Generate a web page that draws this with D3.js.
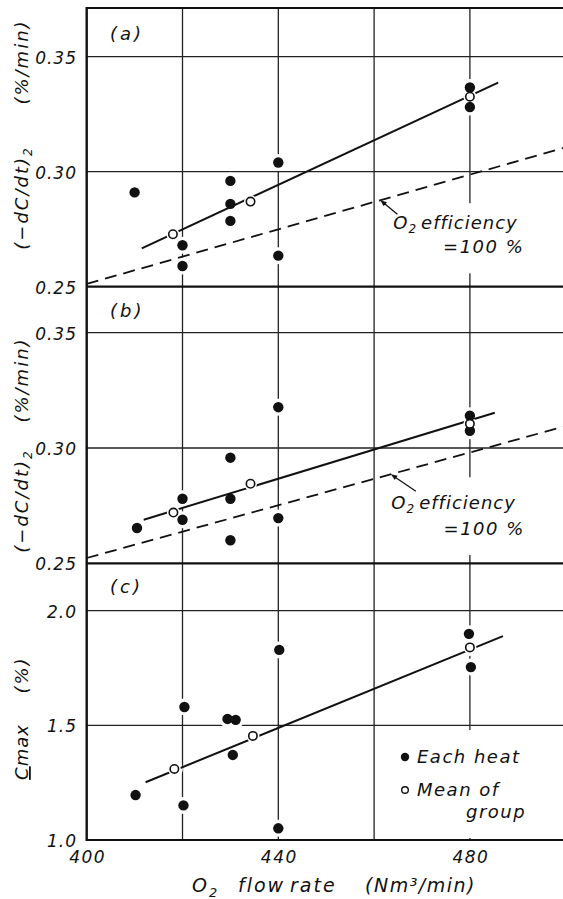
<!DOCTYPE html>
<html>
<head>
<meta charset="utf-8">
<script src="https://cdn.jsdelivr.net/npm/d3@7"></script>
<style>
body{margin:0;background:#fff;}
text{font-family:"DejaVu Sans",sans-serif;font-style:italic;fill:#111;}
</style>
</head>
<body>
<script>
//-----------------------------------------------------------------------DATA

var xTicks = [400, 440, 480];
var xGrid = [420, 440, 460, 480];
var panelLabels = ["(a)", "(b)", "(c)"];

// (a)  (-dC/dt)2 , %/min
var heatA = [[410,0.291],[420,0.268],[420,0.259],[430,0.296],[430,0.286],[430,0.2786],[440,0.304],[440,0.2635],[480,0.3366],[480,0.3281]];
var meanA = [[418,0.2728],[434.2,0.287],[480,0.3326]];
var fitA = [[411.5,0.2667],[485.9,0.3387]];
var effA = [[400,0.2512],[500,0.3106]];
var yTicksA = [0.25, 0.30, 0.35];

// (b)  (-dC/dt)2 , %/min
var heatB = [[410.5,0.2653],[420,0.278],[420,0.2689],[430,0.2958],[430,0.278],[430,0.260],[440,0.3177],[440,0.2696],[480,0.314],[480,0.3075]];
var meanB = [[418.1,0.272],[434.2,0.2845],[480,0.3105]];
var fitB = [[411.9,0.2689],[485.2,0.3153]];
var effB = [[400,0.2523],[500,0.3095]];
var yTicksB = [0.25, 0.30, 0.35];

// (c)  Cmax , %
var heatC = [[410.2,1.196],[420.4,1.58],[420.2,1.151],[429.4,1.528],[431.1,1.524],[430.5,1.371],[440.2,1.829],[440,1.051],[479.8,1.899],[480.2,1.754]];
var meanC = [[418.3,1.31],[434.7,1.454],[480,1.84]];
var fitC = [[412.3,1.252],[486.9,1.889]];
var yTicksC = [1.0, 1.5, 2.0];

// annotation "O2 efficiency = 100 %" (arrow tip x on the dashed line, text anchors)
var noteTipA = 461.3, noteTextA = [[464.0,0.2753],[474.4,0.2645]];
var noteTipB = 463.5, noteTextB = [[463.6,0.2734],[474.5,0.2623]];

//-----------------------------------------------------------------------LAYOUT

var W = 563, H = 899;
var svg = d3.select("body").append("svg").attr("width", W).attr("height", H);

var x = d3.scaleLinear().domain([400, 500]).range([86.7, 565.7]);
var left = x(400);
var plotTop = 8, plotBottom = 840;

var panels = [
	{top: 8, bottom: 286.7, y: d3.scaleLinear().domain([0.25, 0.35]).range([286.7, 56.7]),
	 heat: heatA, mean: meanA, fit: fitA, eff: effA, ticks: yTicksA, fmt: d3.format(".2f"), lab: 40},
	{top: 286.7, bottom: 563.3, y: d3.scaleLinear().domain([0.25, 0.35]).range([563.3, 332.7]),
	 heat: heatB, mean: meanB, fit: fitB, eff: effB, ticks: yTicksB, fmt: d3.format(".2f"), lab: 317},
	{top: 563.3, bottom: 840, y: d3.scaleLinear().domain([1.0, 2.0]).range([840, 610.7]),
	 heat: heatC, mean: meanC, fit: fitC, eff: null, ticks: yTicksC, fmt: d3.format(".1f"), lab: 593}
];

var gGrid = svg.append("g");
var gKnock = svg.append("g");
var gFrame = svg.append("g");
var gLines = svg.append("g");
var gPts = svg.append("g");
var gText = svg.append("g");

//-----------------------------------------------------------------------GRID

// vertical grid lines through all three panels
gGrid.selectAll(".vg").data(xGrid).enter().append("line")
	.attr("x1", function(d){ return x(d); }).attr("x2", function(d){ return x(d); })
	.attr("y1", plotTop).attr("y2", plotBottom)
	.attr("stroke", "#222").attr("stroke-width", 1.3);

panels.forEach(function(p, i){

	// horizontal grid (inner ticks only, panel edges are frame lines)
	var inner = p.ticks.slice(1);
	gGrid.selectAll(".hg" + i).data(inner).enter().append("line")
		.attr("x1", left).attr("x2", W)
		.attr("y1", function(d){ return p.y(d); }).attr("y2", function(d){ return p.y(d); })
		.attr("stroke", "#222").attr("stroke-width", 1.3);

	// tick labels
	gText.selectAll(".yt" + i).data(p.ticks).enter().append("text")
		.attr("x", 77).attr("y", function(d){ return p.y(d) + 7; })
		.attr("text-anchor", "end")
		.style("font-size", "17px").style("letter-spacing", "1px")
		.text(function(d){ return p.fmt(d); });

	// panel label
	gText.append("text").attr("x", 110).attr("y", p.lab)
		.style("font-size", "18px").style("letter-spacing", "3px")
		.text(panelLabels[i]);

	// white halo round every dot, so grid lines are broken there
	gKnock.selectAll(".halo" + i).data(p.heat.concat(p.mean)).enter().append("circle")
		.attr("cx", function(d){ return x(d[0]); }).attr("cy", function(d){ return p.y(d[1]); })
		.attr("r", 8.5).attr("fill", "#fff");

	// dashed line  O2 efficiency = 100 %
	if(p.eff){
		gLines.append("path")
			.attr("d", d3.line().x(function(d){ return x(d[0]); }).y(function(d){ return p.y(d[1]); })(p.eff))
			.attr("fill", "none").attr("stroke", "#111").attr("stroke-width", 1.8)
			.attr("stroke-dasharray", "12,7");
	}

	// fitted line
	gLines.append("path")
		.attr("d", d3.line().x(function(d){ return x(d[0]); }).y(function(d){ return p.y(d[1]); })(p.fit))
		.attr("fill", "none").attr("stroke", "#111").attr("stroke-width", 2);

	// gap of the fitted line round open circles
	gPts.selectAll(".oh" + i).data(p.mean).enter().append("circle")
		.attr("cx", function(d){ return x(d[0]); }).attr("cy", function(d){ return p.y(d[1]); })
		.attr("r", 6.5).attr("fill", "#fff");

	gPts.selectAll(".heat" + i).data(p.heat).enter().append("circle")
		.attr("cx", function(d){ return x(d[0]); }).attr("cy", function(d){ return p.y(d[1]); })
		.attr("r", 5.2).attr("fill", "#111");

	gPts.selectAll(".mean" + i).data(p.mean).enter().append("circle")
		.attr("cx", function(d){ return x(d[0]); }).attr("cy", function(d){ return p.y(d[1]); })
		.attr("r", 4.2).attr("fill", "#fff").attr("stroke", "#111").attr("stroke-width", 1.6);
});

//-----------------------------------------------------------------------ANNOTATIONS

function effNote(p, tipX, txt, tail){
	var t = p.eff;
	var k = (tipX - t[0][0]) / (t[1][0] - t[0][0]);
	var tx = x(tipX), ty = p.y(t[0][1] + k * (t[1][1] - t[0][1]));

	// knock out grid behind the note
	var bx = x(txt[0][0]) - 6, by = ty + 3;
	gKnock.append("rect").attr("x", bx).attr("y", by)
		.attr("width", 136).attr("height", p.y(txt[1][1]) + 20 - by).attr("fill", "#fff");

	var ang = Math.atan2(tail[1], tail[0]);
	gLines.append("line").attr("x1", tx + 3 * Math.cos(ang)).attr("y1", ty + 3 * Math.sin(ang))
		.attr("x2", tx + tail[0]).attr("y2", ty + tail[1])
		.attr("stroke", "#111").attr("stroke-width", 1.3);
	var ah = 7, aw = 0.38;
	gLines.append("path")
		.attr("d", "M" + tx + "," + ty +
			"L" + (tx + ah * Math.cos(ang - aw)) + "," + (ty + ah * Math.sin(ang - aw)) +
			"L" + (tx + ah * Math.cos(ang + aw)) + "," + (ty + ah * Math.sin(ang + aw)) + "Z")
		.attr("fill", "#111");

	var t1 = gText.append("text").attr("x", x(txt[0][0])).attr("y", p.y(txt[0][1]))
		.style("font-size", "18px").style("letter-spacing", "1px");
	t1.append("tspan").text("O");
	t1.append("tspan").attr("dy", 4).style("font-size", "12px").text("2");
	t1.append("tspan").attr("dy", -4).attr("dx", 4).text("efficiency");

	gText.append("text").attr("x", x(txt[1][0])).attr("y", p.y(txt[1][1]))
		.style("font-size", "18px").style("letter-spacing", "1.5px")
		.text("=100 %");
}
effNote(panels[0], noteTipA, noteTextA, [17, 14]);
effNote(panels[1], noteTipB, noteTextB, [25, 17]);

//-----------------------------------------------------------------------LEGEND (c)

gKnock.append("rect").attr("x", 396).attr("y", 730).attr("width", 135).attr("height", 108).attr("fill", "#fff");
gPts.append("circle").attr("cx", 405).attr("cy", 757).attr("r", 4.2).attr("fill", "#111");
gPts.append("circle").attr("cx", 405).attr("cy", 790).attr("r", 3.3).attr("fill", "#fff")
	.attr("stroke", "#111").attr("stroke-width", 1.4);
gText.append("text").attr("x", 417).attr("y", 763).style("font-size", "18px").style("letter-spacing", "1.5px").text("Each heat");
gText.append("text").attr("x", 417).attr("y", 796).style("font-size", "18px").style("letter-spacing", "1.5px").text("Mean of");
gText.append("text").attr("x", 466).attr("y", 818).style("font-size", "18px").style("letter-spacing", "1.5px").text("group");

//-----------------------------------------------------------------------FRAME

gFrame.append("line").attr("x1", left).attr("x2", left).attr("y1", plotTop - 1).attr("y2", plotBottom + 1)
	.attr("stroke", "#111").attr("stroke-width", 2.4);
[plotTop, panels[1].top, panels[2].top, plotBottom].forEach(function(yy){
	gFrame.append("line").attr("x1", left).attr("x2", W).attr("y1", yy).attr("y2", yy)
		.attr("stroke", "#111").attr("stroke-width", 2.2);
});

//-----------------------------------------------------------------------AXIS TEXT

gText.selectAll(".xt").data(xTicks).enter().append("text")
	.attr("x", function(d){ return x(d) + 1; }).attr("y", 863)
	.attr("text-anchor", "middle")
	.style("font-size", "17px").style("letter-spacing", "1.5px")
	.text(function(d){ return d; });

var xt = gText.append("text").attr("y", 892).style("font-size", "19px").style("letter-spacing", "2px");
xt.append("tspan").attr("x", 192).text("O");
xt.append("tspan").attr("dy", 5).style("font-size", "13px").text("2");
xt.append("tspan").attr("x", 238).attr("dy", -5).text("flow");
xt.append("tspan").attr("x", 290).text("rate");
xt.append("tspan").attr("x", 365).style("letter-spacing", "1.5px").text("(Nm³/min)");

// rotated y titles
function yTitle(cy, build){
	var t = gText.append("text").attr("transform", "translate(28," + cy + ") rotate(-90)")
		.attr("text-anchor", "middle").style("font-size", "18px").style("letter-spacing", "2px");
	build(t);
}
function dcdt(t){
	t.append("tspan").text("(−dC/dt)");
	t.append("tspan").attr("dy", 4).style("font-size", "12px").text("2");
}
function pmin(t){ t.text("(%/min)"); }

yTitle(198, dcdt); yTitle(62, pmin);
yTitle(501, dcdt); yTitle(380, pmin);
yTitle(752, function(t){
	t.style("letter-spacing", "1px");
	t.append("tspan").style("text-decoration", "underline").text("C");
	t.append("tspan").text("max");
});
yTitle(675, function(t){ t.text("(%)"); });

</script>
</body>
</html>
